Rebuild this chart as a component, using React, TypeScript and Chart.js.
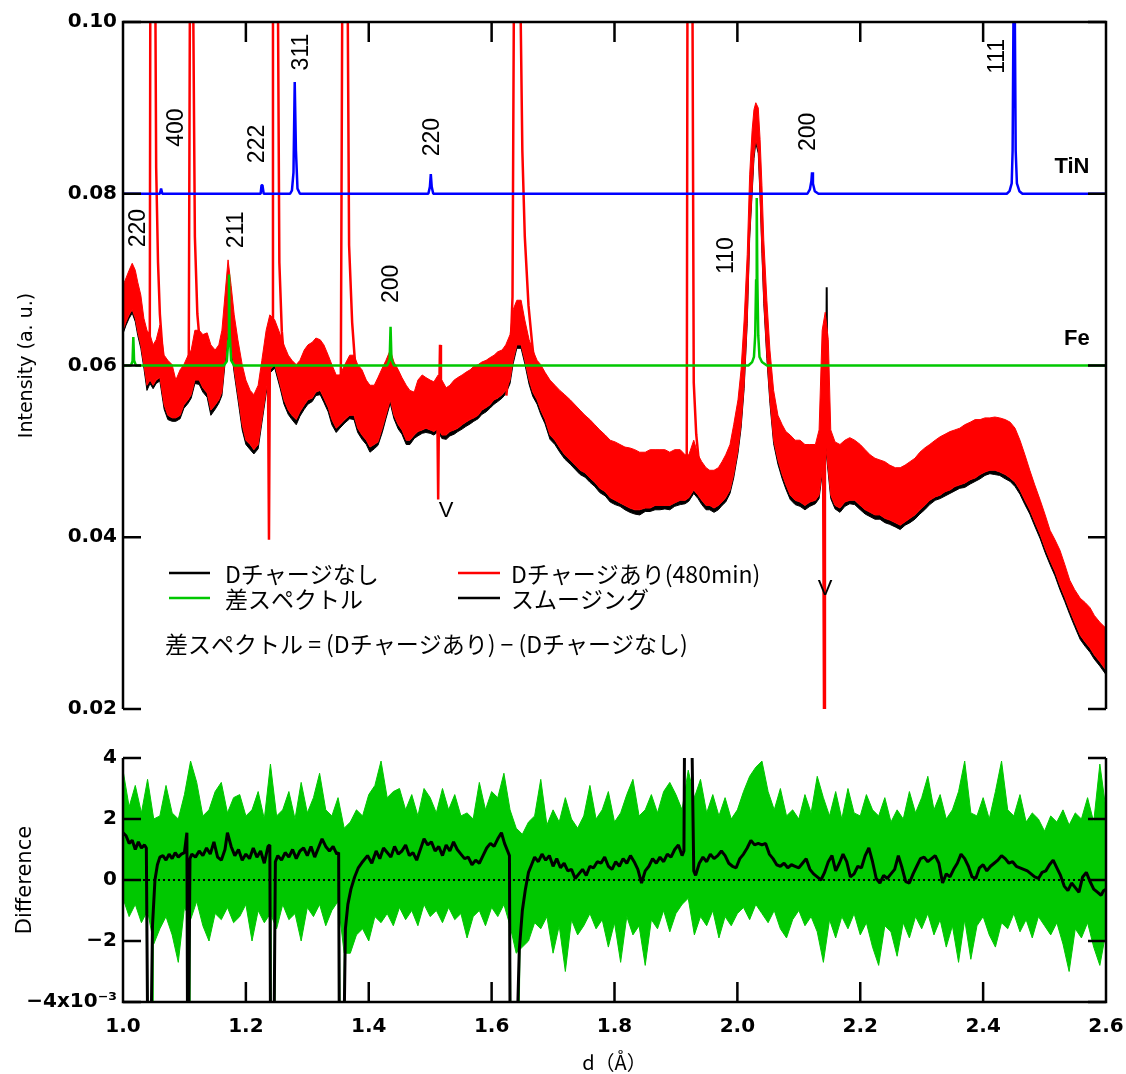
import React, { useEffect, useRef } from 'react';
import { Chart, registerables } from 'chart.js';

Chart.register(...registerables);

// ===== Top panel: measured spectra (noise band read as top / bottom envelope) =====
const specD = [
  1.000,1.005,1.010,1.015,1.020,1.024,1.029,1.034,1.039,1.044,
  1.049,1.054,1.060,1.067,1.073,1.080,1.086,1.093,1.099,1.106,
  1.111,1.117,1.124,1.130,1.137,1.143,1.150,1.156,1.161,1.166,
  1.171,1.176,1.181,1.187,1.194,1.200,1.207,1.213,1.220,1.226,
  1.233,1.239,1.247,1.256,1.262,1.269,1.275,1.282,1.288,1.295,
  1.301,1.308,1.314,1.321,1.327,1.334,1.340,1.347,1.353,1.361,
  1.369,1.376,1.382,1.389,1.396,1.402,1.409,1.415,1.422,1.428,
  1.435,1.441,1.448,1.454,1.461,1.467,1.474,1.480,1.487,1.493,
  1.500,1.506,1.513,1.519,1.526,1.532,1.539,1.545,1.552,1.558,
  1.565,1.571,1.578,1.584,1.591,1.597,1.604,1.610,1.617,1.623,
  1.630,1.635,1.641,1.648,1.654,1.661,1.667,1.674,1.680,1.687,
  1.695,1.703,1.711,1.719,1.728,1.736,1.744,1.752,1.760,1.768,
  1.776,1.785,1.793,1.801,1.809,1.817,1.825,1.833,1.841,1.850,
  1.858,1.866,1.874,1.882,1.890,1.898,1.907,1.915,1.921,1.929,
  1.936,1.942,1.949,1.955,1.962,1.969,1.975,1.981,1.988,1.994,
  2.001,2.006,2.011,2.016,2.020,2.024,2.027,2.030,2.034,2.037,
  2.040,2.043,2.048,2.053,2.059,2.066,2.073,2.079,2.086,2.094,
  2.102,2.110,2.118,2.127,2.133,2.138,2.143,2.148,2.152,2.159,
  2.167,2.175,2.183,2.191,2.200,2.208,2.216,2.224,2.232,2.240,
  2.248,2.257,2.265,2.273,2.281,2.289,2.297,2.305,2.313,2.322,
  2.330,2.338,2.346,2.354,2.362,2.370,2.379,2.387,2.395,2.403,
  2.411,2.419,2.427,2.436,2.444,2.452,2.460,2.468,2.476,2.484,
  2.493,2.501,2.509,2.517,2.525,2.533,2.541,2.549,2.558,2.566,
  2.574,2.581,2.590,2.600,
];

// Dチャージあり(480min): upper edge of the noise band
const redTop = [
  0.0693,0.0702,0.0711,0.0719,0.0711,0.0697,0.0682,0.0655,0.0641,0.0636,
  0.0624,0.0630,0.0647,0.0612,0.0606,0.0601,0.0583,0.0595,0.0601,0.0612,
  0.0618,0.0641,0.0641,0.0636,0.0638,0.0624,0.0618,0.0624,0.0641,0.0682,
  0.0723,0.0693,0.0659,0.0630,0.0601,0.0583,0.0571,0.0566,0.0577,0.0606,
  0.0641,0.0659,0.0653,0.0636,0.0624,0.0612,0.0606,0.0601,0.0606,0.0618,
  0.0624,0.0627,0.0632,0.0630,0.0624,0.0612,0.0601,0.0589,0.0589,0.0601,
  0.0612,0.0612,0.0601,0.0595,0.0583,0.0577,0.0577,0.0586,0.0597,0.0606,
  0.0618,0.0604,0.0595,0.0586,0.0577,0.0571,0.0569,0.0583,0.0589,0.0586,
  0.0583,0.0581,0.0589,0.0583,0.0574,0.0577,0.0583,0.0586,0.0589,0.0592,
  0.0595,0.0599,0.0601,0.0604,0.0606,0.0609,0.0612,0.0616,0.0618,0.0624,
  0.0636,0.0665,0.0676,0.0676,0.0653,0.0630,0.0618,0.0606,0.0601,0.0592,
  0.0583,0.0577,0.0571,0.0566,0.0560,0.0554,0.0548,0.0542,0.0537,0.0531,
  0.0525,0.0519,0.0513,0.0511,0.0508,0.0505,0.0504,0.0502,0.0499,0.0499,
  0.0502,0.0502,0.0502,0.0502,0.0499,0.0502,0.0502,0.0496,0.0496,0.0513,
  0.0496,0.0488,0.0481,0.0478,0.0478,0.0481,0.0488,0.0496,0.0508,0.0531,
  0.0560,0.0595,0.0653,0.0729,0.0822,0.0874,0.0898,0.0906,0.0900,0.0863,
  0.0810,0.0746,0.0676,0.0618,0.0571,0.0542,0.0531,0.0523,0.0519,0.0513,
  0.0513,0.0508,0.0508,0.0508,0.0525,0.0641,0.0662,0.0630,0.0525,0.0511,
  0.0508,0.0513,0.0516,0.0513,0.0508,0.0502,0.0496,0.0492,0.0490,0.0488,
  0.0484,0.0481,0.0481,0.0484,0.0488,0.0492,0.0499,0.0504,0.0508,0.0513,
  0.0517,0.0520,0.0523,0.0525,0.0527,0.0531,0.0534,0.0537,0.0537,0.0539,
  0.0539,0.0540,0.0539,0.0537,0.0534,0.0527,0.0513,0.0496,0.0478,0.0461,
  0.0443,0.0426,0.0408,0.0397,0.0385,0.0368,0.0350,0.0339,0.0329,0.0324,
  0.0318,0.0309,0.0301,0.0294,
];

// Dチャージあり(480min): lower edge of the noise band
const redBottom = [
  0.0641,0.0651,0.0659,0.0665,0.0655,0.0639,0.0624,0.0601,0.0577,0.0583,
  0.0577,0.0583,0.0586,0.0554,0.0542,0.0539,0.0539,0.0542,0.0554,0.0560,
  0.0566,0.0583,0.0583,0.0574,0.0568,0.0548,0.0554,0.0560,0.0569,0.0606,
  0.0641,0.0624,0.0595,0.0566,0.0531,0.0513,0.0508,0.0502,0.0508,0.0537,
  0.0571,0.0595,0.0601,0.0577,0.0560,0.0548,0.0542,0.0537,0.0546,0.0554,
  0.0560,0.0562,0.0569,0.0571,0.0562,0.0551,0.0537,0.0527,0.0531,0.0537,
  0.0542,0.0542,0.0527,0.0519,0.0513,0.0505,0.0508,0.0511,0.0527,0.0542,
  0.0560,0.0542,0.0531,0.0525,0.0513,0.0513,0.0519,0.0523,0.0525,0.0527,
  0.0525,0.0523,0.0527,0.0519,0.0519,0.0523,0.0525,0.0527,0.0531,0.0534,
  0.0537,0.0539,0.0542,0.0548,0.0551,0.0554,0.0560,0.0562,0.0566,0.0571,
  0.0583,0.0606,0.0624,0.0624,0.0606,0.0583,0.0569,0.0560,0.0548,0.0537,
  0.0519,0.0513,0.0504,0.0496,0.0490,0.0484,0.0478,0.0475,0.0469,0.0464,
  0.0457,0.0453,0.0446,0.0443,0.0440,0.0437,0.0434,0.0432,0.0432,0.0434,
  0.0434,0.0437,0.0437,0.0437,0.0437,0.0440,0.0443,0.0443,0.0446,0.0455,
  0.0449,0.0443,0.0437,0.0437,0.0434,0.0437,0.0441,0.0446,0.0455,0.0473,
  0.0502,0.0531,0.0577,0.0653,0.0752,0.0804,0.0845,0.0863,0.0851,0.0799,
  0.0734,0.0676,0.0612,0.0560,0.0513,0.0490,0.0473,0.0461,0.0449,0.0443,
  0.0441,0.0437,0.0441,0.0443,0.0449,0.0478,0.0513,0.0478,0.0449,0.0437,
  0.0434,0.0441,0.0443,0.0443,0.0437,0.0432,0.0429,0.0426,0.0426,0.0422,
  0.0420,0.0417,0.0414,0.0418,0.0422,0.0426,0.0432,0.0437,0.0443,0.0447,
  0.0449,0.0453,0.0455,0.0459,0.0461,0.0463,0.0467,0.0469,0.0473,0.0476,
  0.0478,0.0478,0.0476,0.0473,0.0469,0.0464,0.0455,0.0443,0.0432,0.0418,
  0.0403,0.0387,0.0373,0.0360,0.0344,0.0330,0.0315,0.0301,0.0286,0.0278,
  0.0271,0.0263,0.0255,0.0245,
];

// Dチャージなし: lower edge (the part that shows just below the red band)
const blackBottom = [
  0.0637,0.0647,0.0655,0.0661,0.0651,0.0635,0.0620,0.0597,0.0571,0.0579,
  0.0573,0.0579,0.0582,0.0549,0.0537,0.0535,0.0535,0.0538,0.0550,0.0556,
  0.0562,0.0579,0.0578,0.0569,0.0563,0.0542,0.0549,0.0556,0.0565,0.0602,
  0.0637,0.0620,0.0591,0.0561,0.0525,0.0508,0.0502,0.0497,0.0503,0.0533,
  0.0567,0.0591,0.0597,0.0573,0.0555,0.0543,0.0537,0.0531,0.0541,0.0549,
  0.0555,0.0558,0.0565,0.0566,0.0557,0.0546,0.0531,0.0522,0.0527,0.0533,
  0.0538,0.0537,0.0522,0.0514,0.0508,0.0499,0.0503,0.0507,0.0522,0.0538,
  0.0556,0.0538,0.0526,0.0520,0.0508,0.0508,0.0515,0.0518,0.0521,0.0522,
  0.0521,0.0519,0.0523,0.0515,0.0514,0.0518,0.0520,0.0523,0.0526,0.0529,
  0.0532,0.0535,0.0538,0.0543,0.0546,0.0550,0.0555,0.0558,0.0562,0.0567,
  0.0579,0.0602,0.0620,0.0620,0.0602,0.0578,0.0564,0.0555,0.0543,0.0532,
  0.0514,0.0508,0.0499,0.0491,0.0485,0.0479,0.0473,0.0470,0.0464,0.0459,
  0.0452,0.0448,0.0441,0.0438,0.0436,0.0432,0.0429,0.0427,0.0426,0.0430,
  0.0430,0.0432,0.0432,0.0433,0.0432,0.0436,0.0438,0.0439,0.0442,0.0451,
  0.0445,0.0438,0.0432,0.0432,0.0429,0.0432,0.0437,0.0441,0.0451,0.0469,
  0.0498,0.0527,0.0573,0.0649,0.0748,0.0800,0.0841,0.0859,0.0847,0.0795,
  0.0730,0.0672,0.0608,0.0556,0.0509,0.0485,0.0468,0.0456,0.0444,0.0438,
  0.0436,0.0432,0.0436,0.0439,0.0445,0.0474,0.0509,0.0474,0.0445,0.0433,
  0.0429,0.0436,0.0439,0.0438,0.0432,0.0427,0.0424,0.0421,0.0421,0.0417,
  0.0415,0.0412,0.0409,0.0414,0.0417,0.0421,0.0427,0.0432,0.0438,0.0443,
  0.0445,0.0448,0.0451,0.0454,0.0457,0.0458,0.0462,0.0465,0.0468,0.0472,
  0.0474,0.0473,0.0472,0.0468,0.0465,0.0459,0.0450,0.0438,0.0427,0.0413,
  0.0398,0.0382,0.0368,0.0355,0.0339,0.0325,0.0310,0.0296,0.0281,0.0273,
  0.0266,0.0258,0.0250,0.0240,
];

// Narrow off-scale / down-going spikes of the red spectrum [d, I]; null separates spikes
const redSpikes: [number, number | null][] = [
  [1.0435,0.0590],[1.0445,0.1050],[1.0525,0.1050],[1.0540,0.0830],[1.0570,0.0720],[1.0600,0.0660],[1.0650,0.0610],[1.0700,null],
  [1.1070,0.0600],[1.1090,0.1050],[1.1140,0.1050],[1.1170,0.0750],[1.1210,0.0660],[1.1270,0.0610],[1.1300,null],
  [1.2360,0.0590],[1.2376,0.0397],[1.2390,0.0600],[1.2430,0.0620],[1.2441,0.1050],[1.2520,0.1050],[1.2545,0.0720],[1.2585,0.0640],[1.2630,0.0600],[1.2660,null],
  [1.3545,0.0580],[1.3570,0.1050],[1.3655,0.1050],[1.3680,0.0740],[1.3730,0.0650],[1.3790,0.0590],[1.3820,null],
  [1.5115,0.0555],[1.5130,0.0444],[1.5145,0.0560],[1.5160,0.0624],[1.5175,0.0550],[1.5200,null],
  [1.6240,0.0565],[1.6310,0.0620],[1.6340,0.0680],[1.6364,0.1050],[1.6465,0.1050],[1.6500,0.0850],[1.6540,0.0750],[1.6600,0.0670],[1.6660,0.0625],[1.6730,0.0580],[1.6760,null],
  [1.9175,0.0460],[1.9188,0.1050],[1.9268,0.1050],[1.9290,0.0580],[1.9330,0.0520],[1.9370,0.0490],[1.9400,null],
  [2.1395,0.0500],[2.1410,0.0195],[2.1425,0.0520],
];
const blackSpikes: [number, number][] = [[2.1440,0.0500],[2.1454,0.0691],[2.1468,0.0500]];

// Reference patterns [d, I]
const tinPattern: [number, number][] = [
  [1.000,0.0800],[1.060,0.0800],[1.062,0.0806],[1.064,0.0800],
  [1.224,0.0800],[1.2255,0.0810],[1.227,0.0810],[1.229,0.0800],
  [1.272,0.0800],[1.275,0.0804],[1.2775,0.0825],[1.2795,0.0930],[1.2815,0.0850],[1.284,0.0806],[1.288,0.0800],
  [1.497,0.0800],[1.4995,0.0808],[1.501,0.0823],[1.5025,0.0808],[1.505,0.0800],
  [2.114,0.0800],[2.118,0.0805],[2.1205,0.0815],[2.1215,0.0825],[2.123,0.0812],[2.126,0.0803],[2.132,0.0800],
  [2.4385,0.0800],[2.443,0.0803],[2.4465,0.0812],[2.448,0.0850],[2.4495,0.1020],[2.4515,0.1020],[2.453,0.0850],[2.455,0.0812],[2.459,0.0803],[2.464,0.0800],
  [2.600,0.0800],
];
const fePattern: [number, number][] = [
  [1.000,0.0600],[1.013,0.0600],[1.0155,0.0605],[1.0168,0.0633],[1.018,0.0606],[1.021,0.0600],
  [1.164,0.0600],[1.169,0.0605],[1.1715,0.0630],[1.1725,0.0706],[1.1735,0.0640],[1.176,0.0606],[1.181,0.0600],
  [1.430,0.0600],[1.434,0.0607],[1.4355,0.0645],[1.437,0.0607],[1.441,0.0600],
  [2.018,0.0600],[2.024,0.0604],[2.027,0.0610],[2.029,0.0635],[2.0305,0.0700],[2.0315,0.0795],[2.0325,0.0700],[2.034,0.0635],[2.036,0.0610],[2.040,0.0604],[2.048,0.0600],
  [2.600,0.0600],
];

// Peak index labels (anchor in data units)
const tinLabels = ['400', '222', '311', '220', '200', '111'];
const tinLabelAt: [number, number][] = [[1.0863,0.0877],[1.2181,0.0858],[1.2897,0.0965],[1.5029,0.0866],[2.1148,0.0872],[2.4225,0.0960]];
const feLabels = ['220', '211', '200', '110'];
const feLabelAt: [number, number][] = [[1.0244,0.0760],[1.1839,0.0758],[1.4362,0.0695],[1.9814,0.0728]];
const phaseNames = ['TiN', 'Fe'];
const phaseAt: [number, number][] = [[2.5446,0.0831],[2.5527,0.0631]];
const markerAt: [number, number][] = [[1.5257,0.0431],[2.1426,0.0340]];

const legendRows = [
  [{ label: 'Dチャージなし', color: '#000000' }, { label: 'Dチャージあり(480min)', color: '#ff0000' }],
  [{ label: '差スペクトル', color: '#00c800' }, { label: 'スムージング', color: '#000000' }],
];
const equationText = '差スペクトル = (Dチャージあり) − (Dチャージなし)';

// ===== Bottom panel: difference (x10^-3), sampled every 0.01 Å from 1.00 to 2.60 =====
const diffTop = [
  3.6,2.4,3.1,2.2,3.3,2.0,2.1,3.1,2.2,2.0,
  2.8,3.9,3.2,2.1,2.3,2.9,3.2,2.2,2.7,2.8,
  2.1,2.3,2.9,2.0,3.8,2.1,2.3,2.9,2.0,3.2,
  2.2,2.7,3.5,2.3,2.1,2.7,1.7,1.9,2.3,2.1,
  2.8,3.1,3.9,2.7,2.9,3.0,2.3,2.8,2.1,3.0,
  2.7,2.2,3.0,2.3,2.8,2.1,2.2,2.0,3.2,2.3,
  2.9,2.7,3.5,2.3,1.7,1.5,1.9,2.1,3.3,1.8,
  2.3,1.9,2.7,2.0,1.7,2.1,3.1,2.0,2.3,2.9,
  1.9,2.2,2.8,3.3,2.1,2.3,2.8,2.2,2.9,3.2,
  2.8,2.3,3.6,2.7,3.3,2.2,2.8,2.1,2.7,2.0,
  2.3,2.9,3.4,3.7,3.9,2.9,2.3,3.0,2.1,2.3,
  2.0,2.8,2.2,3.4,2.7,2.1,2.9,2.0,3.0,2.2,
  2.1,2.8,2.3,2.1,2.7,1.9,2.3,2.0,2.9,2.2,
  2.7,3.4,2.3,2.8,2.0,2.3,2.9,3.9,2.2,2.1,
  2.7,2.0,2.9,3.9,2.3,2.1,2.8,1.9,2.2,2.0,
  1.6,2.1,1.9,2.3,1.8,2.2,2.0,2.7,1.9,3.8,
  2.3,
];
const diffBottom = [
  -0.6,-1.2,-0.8,-1.4,-1.0,-2.1,-1.6,-1.2,-1.8,-2.7,
  -0.9,-1.3,-0.7,-1.5,-2.0,-1.1,-1.3,-0.9,-1.4,-1.2,
  -0.8,-2.0,-1.0,-1.4,-1.1,-1.6,-0.8,-1.3,-1.1,-2.0,
  -0.9,-1.2,-0.8,-1.5,-1.0,-0.7,-2.4,-2.4,-1.8,-1.6,
  -2.0,-1.2,-1.4,-1.1,-1.5,-0.9,-1.3,-1.0,-1.5,-0.8,
  -1.2,-1.0,-1.4,-0.9,-1.3,-1.1,-1.9,-1.2,-1.0,-1.5,
  -0.9,-1.2,-0.8,-1.5,-2.4,-2.2,-2.0,-1.4,-1.6,-1.2,
  -2.4,-1.5,-3.0,-1.3,-1.8,-1.5,-1.1,-1.6,-1.3,-2.2,
  -1.4,-2.7,-1.2,-1.8,-1.5,-2.8,-1.3,-1.6,-1.0,-1.7,
  -1.1,-0.8,-0.6,-1.8,-1.2,-1.5,-1.0,-1.9,-1.2,-1.5,
  -1.1,-0.9,-1.3,-0.8,-1.1,-1.4,-1.0,-1.6,-1.9,-1.3,
  -1.0,-1.5,-1.2,-1.7,-2.7,-1.3,-1.9,-1.2,-1.6,-1.1,
  -1.8,-1.4,-2.2,-2.8,-1.5,-1.7,-2.5,-1.4,-1.9,-1.2,
  -1.6,-1.1,-1.8,-1.3,-2.2,-1.5,-2.7,-1.3,-2.6,-1.5,
  -1.2,-1.8,-2.2,-1.4,-1.6,-1.1,-1.7,-1.3,-1.9,-1.2,
  -1.5,-1.8,-1.4,-2.1,-3.0,-1.6,-1.9,-1.4,-2.2,-2.8,
  -1.7,
];
const diffDips: [number, number | null][] = [
  [1.0385,0.5],[1.0395,-4.6],[1.0475,-4.6],[1.0485,-1.0],[1.0500,null],
  [1.1045,1.0],[1.1055,-4.6],[1.1075,-4.6],[1.1085,0.0],[1.1100,null],
  [1.2395,0.5],[1.2405,-4.6],[1.2465,-4.6],[1.2475,0.0],[1.2490,null],
  [1.3510,0.5],[1.3525,-4.6],[1.3600,-4.6],[1.3615,-1.5],[1.3630,null],
  [1.6290,0.5],[1.6305,-4.6],[1.6440,-4.6],[1.6455,-2.0],
];
const smoothing: [number, number][] = [
  [1.000,1.55],[1.005,1.45],[1.010,1.20],[1.015,1.30],[1.020,1.00],[1.025,1.25],[1.030,1.05],[1.035,1.15],[1.038,1.05],
  [1.040,-4.6],[1.046,-4.6],[1.048,-1.5],[1.052,0.0],[1.056,0.5],[1.060,0.75],[1.065,0.80],[1.070,0.65],[1.075,0.85],
  [1.080,0.70],[1.085,0.90],[1.090,0.75],[1.095,0.85],[1.100,0.90],[1.104,1.55],[1.105,-4.6],[1.107,-4.6],[1.109,0.7],
  [1.112,0.85],[1.118,0.75],[1.124,0.95],[1.130,0.80],[1.136,1.05],[1.142,0.85],[1.148,1.25],[1.154,0.75],[1.160,0.65],
  [1.166,1.00],[1.170,1.55],[1.176,1.10],[1.182,0.80],[1.188,1.00],[1.194,0.65],[1.200,0.85],[1.206,0.70],[1.212,1.05],
  [1.218,0.75],[1.224,0.95],[1.230,0.55],[1.236,1.10],[1.239,1.15],[1.240,-4.6],[1.246,-4.6],[1.248,0.6],[1.252,0.8],
  [1.258,0.65],[1.264,0.90],[1.270,0.75],[1.276,1.00],[1.282,0.70],[1.288,0.95],[1.294,1.05],[1.300,0.80],[1.306,1.10],
  [1.312,0.75],[1.318,1.05],[1.324,1.35],[1.330,1.10],[1.336,0.95],[1.342,1.10],[1.348,0.85],[1.351,0.90],[1.352,-4.6],
  [1.360,-4.6],[1.362,-1.6],[1.366,-0.8],[1.371,-0.3],[1.377,0.1],[1.383,0.4],[1.390,0.6],[1.398,0.8],[1.405,0.55],
  [1.412,0.95],[1.418,0.70],[1.424,1.05],[1.430,0.90],[1.436,0.75],[1.442,1.10],[1.448,0.85],[1.454,0.95],[1.460,1.15],
  [1.466,0.80],[1.472,0.90],[1.478,0.65],[1.484,1.00],[1.490,1.35],[1.496,1.15],[1.502,1.25],[1.508,0.95],[1.514,1.10],
  [1.520,0.80],[1.526,1.15],[1.532,0.95],[1.538,1.25],[1.544,1.00],[1.550,0.85],[1.556,0.70],[1.562,0.75],[1.568,0.50],
  [1.574,0.65],[1.580,0.55],[1.586,0.80],[1.592,1.05],[1.598,1.20],[1.604,1.10],[1.610,1.35],[1.616,1.55],[1.621,1.20],
  [1.626,0.95],[1.629,0.80],[1.630,-4.6],[1.642,-4.6],[1.645,-2.3],[1.650,-1.0],[1.655,-0.3],[1.660,0.25],[1.665,0.50],
  [1.670,0.75],[1.676,0.60],[1.682,0.85],[1.688,0.65],[1.694,0.80],[1.700,0.45],[1.706,0.70],[1.712,0.40],[1.718,0.55],
  [1.724,0.30],[1.730,0.35],[1.736,0.05],[1.742,0.20],[1.748,0.35],[1.754,0.15],[1.760,0.45],[1.766,0.40],[1.772,0.60],
  [1.778,0.55],[1.784,0.75],[1.790,0.45],[1.796,0.35],[1.802,0.60],[1.808,0.45],[1.814,0.70],[1.820,0.55],[1.826,0.80],
  [1.832,0.60],[1.838,0.35],[1.844,-0.10],[1.850,0.30],[1.856,0.45],[1.862,0.70],[1.868,0.55],[1.874,0.75],[1.880,0.60],
  [1.886,0.85],[1.892,0.75],[1.898,1.00],[1.904,1.15],[1.910,0.80],[1.913,0.95],[1.914,4.6],[1.926,4.6],[1.929,0.3],
  [1.932,0.15],[1.938,0.55],[1.944,0.75],[1.950,0.60],[1.956,0.85],[1.962,0.70],[1.968,0.80],[1.974,0.95],[1.980,0.80],
  [1.986,0.55],[1.992,0.45],[1.998,0.40],[2.004,0.70],[2.010,0.85],[2.016,1.05],[2.022,1.30],[2.028,1.15],[2.034,1.20],
  [2.040,1.15],[2.046,1.20],[2.052,0.85],[2.058,0.70],[2.064,0.50],[2.070,0.45],[2.076,0.55],[2.082,0.40],[2.088,0.50],
  [2.094,0.45],[2.100,0.40],[2.106,0.55],[2.112,0.70],[2.118,0.35],[2.124,0.20],[2.130,0.10],[2.136,0.00],[2.142,0.25],
  [2.148,0.60],[2.154,0.80],[2.160,0.30],[2.166,0.55],[2.172,0.85],[2.178,0.60],[2.184,0.10],[2.190,0.20],[2.196,0.45],
  [2.202,0.40],[2.208,0.80],[2.214,1.05],[2.220,0.60],[2.226,0.05],[2.232,-0.10],[2.238,0.15],[2.244,0.05],[2.250,0.20],
  [2.256,0.35],[2.262,0.80],[2.268,0.40],[2.274,-0.05],[2.280,-0.10],[2.286,0.20],[2.292,0.45],[2.298,0.70],[2.304,0.75],
  [2.310,0.60],[2.316,0.70],[2.322,0.80],[2.328,0.55],[2.334,-0.10],[2.340,0.20],[2.346,0.10],[2.352,0.35],[2.358,0.55],
  [2.364,0.85],[2.370,0.70],[2.376,0.45],[2.382,0.10],[2.388,0.05],[2.394,0.40],[2.400,0.50],[2.406,0.30],[2.412,0.45],
  [2.418,0.55],[2.424,0.65],[2.430,0.80],[2.436,0.70],[2.442,0.55],[2.448,0.60],[2.454,0.45],[2.460,0.40],[2.466,0.35],
  [2.472,0.30],[2.478,0.20],[2.484,0.10],[2.490,0.05],[2.496,0.25],[2.502,0.30],[2.508,0.50],[2.514,0.65],[2.520,0.40],
  [2.526,0.15],[2.532,-0.20],[2.538,-0.35],[2.544,-0.10],[2.550,-0.25],[2.556,-0.40],[2.562,0.10],[2.568,0.25],[2.574,-0.05],
  [2.580,-0.30],[2.586,-0.40],[2.592,-0.50],[2.596,-0.35],[2.600,-0.30],
];

const xInnerTicks = [1.2, 1.4, 1.6, 1.8, 2.0, 2.2, 2.4];

// ===== helpers =====
const fromArrays = (xs: number[], ys: (number | null)[]) =>
  xs.slice(0, Math.min(xs.length, ys.length)).map((x, i) => ({ x, y: ys[i] }));
const fromPairs = (p: [number, number | null][]) => p.map(([x, y]) => ({ x, y }));
const diffD = diffTop.map((_, i) => Math.round((1 + i * 0.01) * 100) / 100);

const TICK_FONT = { family: '"DejaVu Sans", sans-serif', size: 20, weight: 'bold' as const };
const LATIN = '"Liberation Sans", Arial, sans-serif';
const JP = '"Noto Sans CJK JP", "Noto Sans", sans-serif';

const line = (ctx: CanvasRenderingContext2D, x1: number, y1: number, x2: number, y2: number) => {
  ctx.moveTo(x1, y1);
  ctx.lineTo(x2, y2);
};

const topDecor = {
  id: 'topDecor',
  afterDatasetsDraw(chart: any) {
    const { ctx, chartArea: ca, scales } = chart;
    const xs = scales.x;
    const ys = scales.y;
    ctx.save();
    ctx.strokeStyle = '#000';
    ctx.lineWidth = 2.5;
    ctx.lineCap = 'butt';
    ctx.beginPath();
    ctx.moveTo(ca.left, ca.bottom);
    ctx.lineTo(ca.left, ca.top);
    ctx.lineTo(ca.right, ca.top);
    ctx.lineTo(ca.right, ca.bottom);
    ctx.stroke();
    ctx.beginPath();
    ys.ticks.forEach((t: any) => {
      const py = ys.getPixelForValue(t.value);
      line(ctx, ca.left, py, ca.left + 18, py);
      line(ctx, ca.right - 18, py, ca.right, py);
    });
    xInnerTicks.forEach((v) => {
      const px = xs.getPixelForValue(v);
      line(ctx, px, ca.top, px, ca.top + 20);
    });
    ctx.stroke();

    const px = (d: number) => xs.getPixelForValue(d);
    const py = (v: number) => ys.getPixelForValue(v);
    ctx.fillStyle = '#000';
    ctx.textAlign = 'center';
    ctx.textBaseline = 'middle';
    ctx.font = `23px ${LATIN}`;
    const rot = (txt: string, [d, v]: [number, number]) => {
      ctx.save();
      ctx.translate(px(d), py(v));
      ctx.rotate(-Math.PI / 2);
      ctx.fillText(txt, 0, 1);
      ctx.restore();
    };
    tinLabels.forEach((t, i) => rot(t, tinLabelAt[i]));
    feLabels.forEach((t, i) => rot(t, feLabelAt[i]));
    ctx.font = `bold 22px ${LATIN}`;
    phaseNames.forEach((t, i) => ctx.fillText(t, px(phaseAt[i][0]), py(phaseAt[i][1])));
    ctx.font = `22px ${LATIN}`;
    markerAt.forEach(([d, v]) => ctx.fillText('V', px(d), py(v)));

    // legend
    ctx.textAlign = 'left';
    ctx.font = `23px ${JP}`;
    const colLine = [[46, 87], [335, 377]];
    const colText = [102, 388];
    const rowY = [551, 576];
    legendRows.forEach((row, r) => {
      row.forEach((item, c) => {
        const y = ca.top + rowY[r];
        ctx.beginPath();
        ctx.strokeStyle = item.color;
        ctx.lineWidth = 2.5;
        line(ctx, ca.left + colLine[c][0], y, ca.left + colLine[c][1], y);
        ctx.stroke();
        ctx.fillStyle = '#000';
        ctx.fillText(item.label, ca.left + colText[c], y + 1);
      });
    });
    ctx.fillText(equationText, ca.left + 42, ca.top + 622);
    ctx.restore();
  },
};

const bottomDecor = {
  id: 'bottomDecor',
  afterDatasetsDraw(chart: any) {
    const { ctx, chartArea: ca, scales } = chart;
    const xs = scales.x;
    const ys = scales.y;
    ctx.save();
    ctx.strokeStyle = '#000';
    ctx.lineWidth = 2.5;
    ctx.beginPath();
    ctx.moveTo(ca.left, ca.top);
    ctx.lineTo(ca.left, ca.bottom);
    ctx.lineTo(ca.right, ca.bottom);
    ctx.lineTo(ca.right, ca.top);
    ctx.stroke();
    ctx.beginPath();
    ys.ticks.forEach((t: any) => {
      const py = ys.getPixelForValue(t.value);
      line(ctx, ca.left, py, ca.left + 18, py);
      line(ctx, ca.right - 18, py, ca.right, py);
    });
    xInnerTicks.forEach((v) => {
      const px = xs.getPixelForValue(v);
      line(ctx, px, ca.bottom, px, ca.bottom - 20);
    });
    ctx.stroke();
    ctx.restore();
  },
};

const lineDs = (data: any[], color: string, width: number, order: number, extra: any = {}) => ({
  data,
  borderColor: color,
  backgroundColor: color,
  borderWidth: width,
  pointRadius: 0,
  fill: false,
  tension: 0,
  spanGaps: false,
  order,
  ...extra,
});

export default function App() {
  const topRef = useRef<HTMLCanvasElement>(null);
  const botRef = useRef<HTMLCanvasElement>(null);

  useEffect(() => {
    const common = {
      animation: false as const,
      responsive: false,
      devicePixelRatio: 1,
      events: [] as any[],
      elements: { line: { borderJoinStyle: 'bevel' as const, borderCapStyle: 'butt' as const } },
    };

    const topChart = new Chart(topRef.current!, {
      type: 'line',
      data: {
        datasets: [
          lineDs(fromPairs(tinPattern), '#0000ff', 2.5, 0),
          lineDs(fromPairs(fePattern), '#00c800', 2.5, 1),
          lineDs(fromPairs(redSpikes), '#ff0000', 2.5, 2),
          lineDs(fromArrays(specD, redTop), '#ff0000', 1, 3, { fill: 4, backgroundColor: '#ff0000' }),
          lineDs(fromArrays(specD, redBottom), '#ff0000', 1, 3),
          lineDs(fromPairs(blackSpikes), '#000000', 2, 5),
          lineDs(fromArrays(specD, blackBottom), '#000000', 1, 6, { fill: 4, backgroundColor: '#000000' }),
        ],
      },
      options: {
        ...common,
        layout: { padding: { top: 22, right: 20, bottom: 26, left: 0 } },
        plugins: { legend: { display: false }, tooltip: { enabled: false } },
        scales: {
          x: { type: 'linear', min: 1.0, max: 2.6, display: false },
          y: {
            type: 'linear',
            min: 0.02,
            max: 0.1,
            afterFit: (s: any) => { s.width = 123; },
            grid: { display: false, drawTicks: false },
            border: { display: false },
            ticks: {
              stepSize: 0.02,
              padding: 6,
              color: '#000',
              font: TICK_FONT,
              callback: (v: any) => Number(v).toFixed(2),
            },
            title: {
              display: true,
              text: 'Intensity (a. u.)',
              color: '#000',
              font: { family: '"DejaVu Sans", sans-serif', size: 19 },
              padding: { top: 16, bottom: 0 },
            },
          },
        },
      } as any,
      plugins: [topDecor],
    });

    const bottomChart = new Chart(botRef.current!, {
      type: 'line',
      data: {
        datasets: [
          lineDs(fromPairs(smoothing), '#000000', 3, 0),
          lineDs([{ x: 1.0, y: 0 }, { x: 2.6, y: 0 }], '#000000', 2, 1, { borderDash: [2, 3] }),
          lineDs(fromPairs(diffDips), '#00c800', 2, 2),
          lineDs(fromArrays(diffD, diffTop), '#00c800', 1, 3, { fill: 4, backgroundColor: '#00c800' }),
          lineDs(fromArrays(diffD, diffBottom), '#00c800', 1, 3),
        ],
      },
      options: {
        ...common,
        layout: { padding: { top: 23, right: 20, bottom: 0, left: 0 } },
        plugins: { legend: { display: false }, tooltip: { enabled: false } },
        scales: {
          x: {
            type: 'linear',
            min: 1.0,
            max: 2.6,
            afterFit: (s: any) => {
              s.height = 72;
              s.paddingLeft = 0;
              s.paddingRight = 0;
            },
            grid: { display: false, drawTicks: false },
            border: { display: false },
            ticks: {
              stepSize: 0.2,
              padding: 13,
              autoSkip: false,
              maxRotation: 0,
              color: '#000',
              font: TICK_FONT,
              callback: (v: any) => Number(v).toFixed(1),
            },
            title: {
              display: true,
              text: 'd（Å）',
              color: '#000',
              font: { family: JP, size: 20 },
              padding: { top: 0, bottom: 0 },
            },
          },
          y: {
            type: 'linear',
            min: -4,
            max: 4,
            afterFit: (s: any) => { s.width = 123; },
            grid: { display: false, drawTicks: false },
            border: { display: false },
            ticks: {
              stepSize: 2,
              padding: 6,
              color: '#000',
              font: TICK_FONT,
              callback: (v: any) => {
                const n = Number(v);
                if (n === -4) return '−4x10⁻³';
                return n < 0 ? '−' + Math.abs(n) : String(n);
              },
            },
            title: {
              display: true,
              text: 'Difference',
              color: '#000',
              font: { family: '"DejaVu Sans", sans-serif', size: 21 },
              padding: { top: 13, bottom: 0 },
            },
          },
        },
      } as any,
      plugins: [bottomDecor],
    });

    return () => {
      topChart.destroy();
      bottomChart.destroy();
    };
  }, []);

  return (
    <div style={{ position: 'absolute', left: 0, top: 0, width: 1126, height: 1074, background: '#fff' }}>
      <canvas
        ref={topRef}
        width={1126}
        height={735}
        style={{ position: 'absolute', left: 0, top: 0, width: 1126, height: 735 }}
      />
      <canvas
        ref={botRef}
        width={1126}
        height={339}
        style={{ position: 'absolute', left: 0, top: 735, width: 1126, height: 339 }}
      />
    </div>
  );
}
